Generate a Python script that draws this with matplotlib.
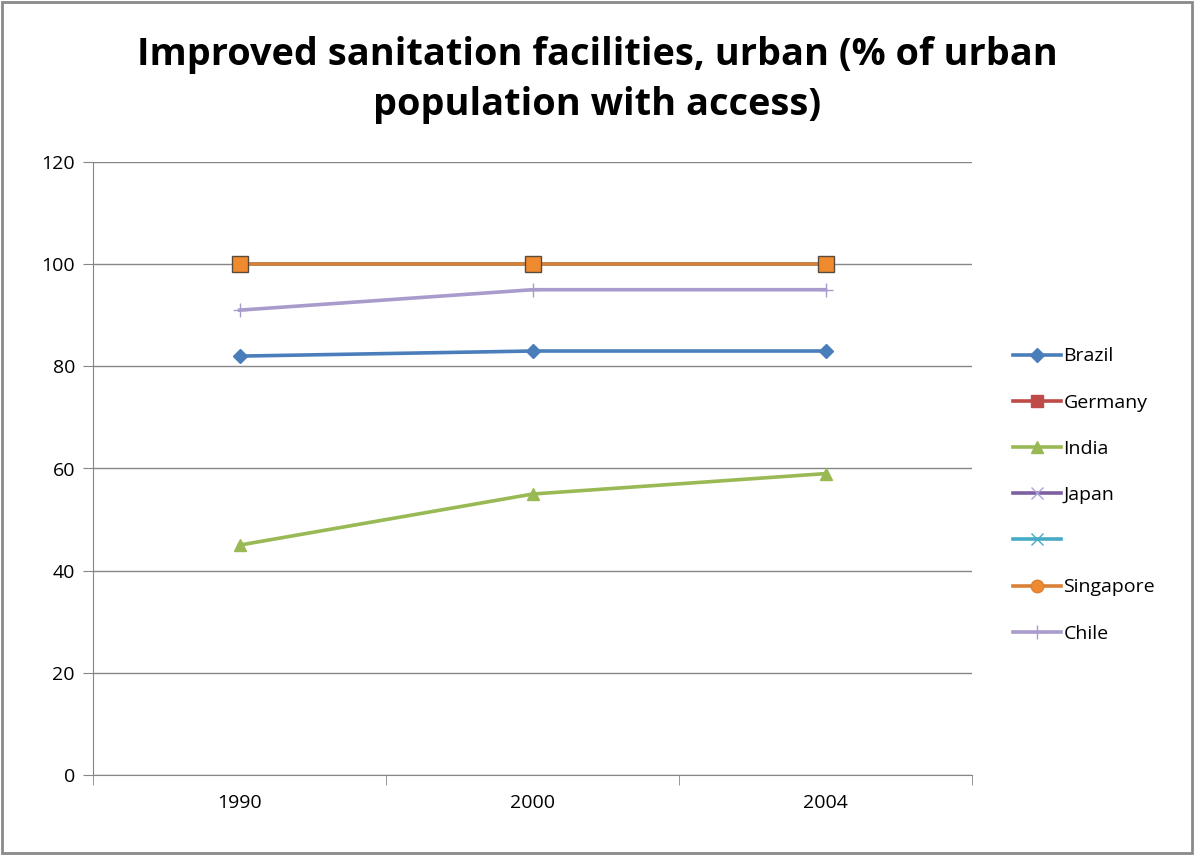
import matplotlib
matplotlib.use("Agg")
from matplotlib import pyplot as plt
from matplotlib.lines import Line2D
from matplotlib.patches import Rectangle

years = ["1990", "2000", "2004"]
brazil = [82, 83, 83]
germany = [100, 100, 100]
india = [45, 55, 59]
japan = [100, 100, 100]
unnamed = [100, 100, 100]
singapore = [100, 100, 100]
chile = [91, 95, 95]

plt.rcParams['font.family'] = ['Open Sans', 'DejaVu Sans']

fig = plt.figure(figsize=(11.94, 8.55), dpi=100)
ax = fig.add_axes([93 / 1194, 1 - 775 / 855, (972 - 93) / 1194, (775 - 162) / 855])

xs = range(len(years))
gray = "#868686"
lw = 2.6

ax.plot(xs, brazil, color="#4A7EBB", lw=lw, marker="D", ms=7, zorder=3)
ax.plot(xs, germany, color="#BE4B48", lw=lw, marker="s", ms=8, zorder=3)
ax.plot(xs, india, color="#98B954", lw=lw, marker="^", ms=9, zorder=3)
ax.plot(xs, japan, color="#7D60A0", lw=lw, marker="x", ms=8, zorder=3)
ax.plot(xs, unnamed, color="#46AAC5", lw=lw, marker="x", ms=8, zorder=3)
ax.plot(xs, chile, color="#A99BCB", lw=lw, marker="+", ms=10, zorder=3)
ax.plot(xs, singapore, color="#DA8137", lw=lw, marker="s", ms=11,
        mfc="#F08A2E", mec="#5A4A3A", mew=1.0, zorder=4)

ax.set_xlim(-0.5, 2.5)
ax.set_ylim(0, 120)
ax.set_yticks(range(0, 121, 20))
ax.set_xticks(list(xs))
ax.set_xticklabels(years)
ax.set_xticks([-0.5, 0.5, 1.5, 2.5], minor=True)
ax.tick_params(axis="x", which="major", length=0, pad=14, labelsize=14)
ax.tick_params(axis="x", which="minor", length=7, color=gray)
ax.tick_params(axis="y", length=7, color=gray, labelsize=14, pad=6)
ax.grid(axis="y", color=gray, lw=1)
ax.set_axisbelow(True)
for s in ["top", "right"]:
    ax.spines[s].set_visible(False)
for s in ["left", "bottom"]:
    ax.spines[s].set_color(gray)

fig.text(0.5, 1 - 55 / 855, "Improved sanitation facilities, urban (% of urban",
         ha="center", va="center", fontsize=27.3, fontweight="bold")
fig.text(0.5, 1 - 105 / 855, "population with access)",
         ha="center", va="center", fontsize=27.3, fontweight="bold")

handles = [
    Line2D([], [], color="#4A7EBB", lw=lw, marker="D", ms=7),
    Line2D([], [], color="#BE4B48", lw=lw, marker="s", ms=8),
    Line2D([], [], color="#98B954", lw=lw, marker="^", ms=9),
    Line2D([], [], color="#7D60A0", lw=lw, marker="x", ms=8, mec="#A9A2D8"),
    Line2D([], [], color="#46AAC5", lw=lw, marker="x", ms=8),
    Line2D([], [], color="#DA8137", lw=lw, marker="o", ms=9, mfc="#F08A2E"),
    Line2D([], [], color="#A99BCB", lw=lw, marker="+", ms=10),
]
labels = ["Brazil", "Germany", "India", "Japan", "", "Singapore", "Chile"]
fig.legend(handles, labels, loc="center left", bbox_to_anchor=(1003 / 1194, 1 - 495 / 855),
           frameon=False, fontsize=14, handlelength=2.5, handletextpad=0.1,
           labelspacing=1.45, borderpad=0)

fig.patches.append(Rectangle((0.002, 0.002), 0.996, 0.996, transform=fig.transFigure,
                             fill=False, edgecolor="#8A8A8A", lw=2))

fig.savefig("out.png", dpi=100)
